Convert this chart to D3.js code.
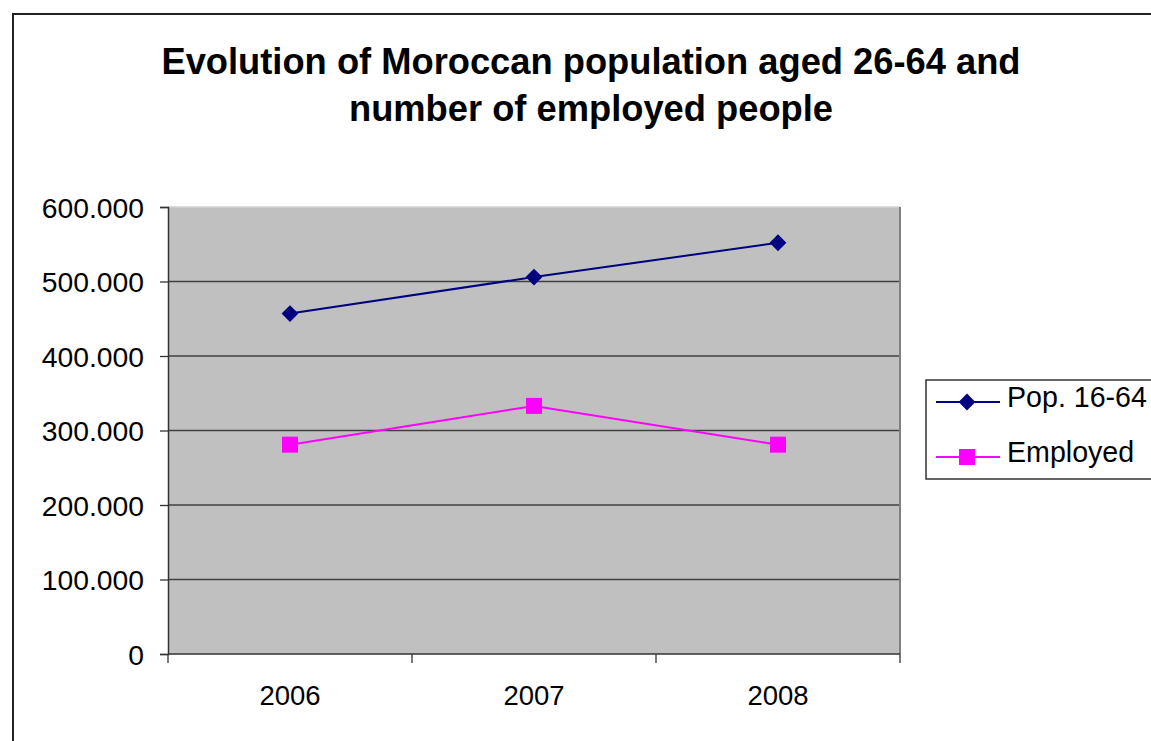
<!DOCTYPE html>
<html>
<head>
<meta charset="utf-8">
<script src="https://cdn.jsdelivr.net/npm/d3@7"></script>
<style>
  body { margin: 0; background: #fff; }
  svg { display: block; font-family: "Liberation Sans", Arial, sans-serif; }
</style>
</head>
<body>
<svg id="chart" width="1151" height="741"></svg>
<script>
// chart data
const years = ['2006', '2007', '2008'];
const popValues = [457000, 506000, 552000];
const employedValues = [281000, 333000, 281000];
const yTicks = [0, 100000, 200000, 300000, 400000, 500000, 600000];
const seriesNames = ['Pop. 16-64', 'Employed'];

const svg = d3.select('#chart');

// outer chart border (runs off the right edge)
svg.append('rect')
    .attr('x', 13).attr('y', 14)
    .attr('width', 1200).attr('height', 760)
    .attr('fill', 'none')
    .attr('stroke', '#222')
    .attr('stroke-width', 2);

// title
const title = svg.append('text')
    .attr('text-anchor', 'middle')
    .attr('font-weight', 'bold')
    .attr('font-size', 36.3)
    .attr('fill', '#000');
title.append('tspan').attr('x', 591).attr('y', 74)
    .text('Evolution of Moroccan population aged 26-64 and');
title.append('tspan').attr('x', 591).attr('y', 121)
    .text('number of employed people');

const plot = { left: 168, top: 207, right: 900, bottom: 654 };

const x = d3.scaleBand()
    .domain(years)
    .range([plot.left, plot.right]);

const y = d3.scaleLinear()
    .domain([0, 600000])
    .range([plot.bottom, plot.top]);

// plot background
svg.append('rect')
    .attr('x', plot.left).attr('y', plot.top)
    .attr('width', plot.right - plot.left)
    .attr('height', plot.bottom - plot.top)
    .attr('fill', '#c0c0c0');

// gridlines
svg.append('g')
    .selectAll('line')
    .data(yTicks.filter(d => d > 0 && d < 600000))
    .join('line')
    .attr('x1', plot.left).attr('x2', plot.right)
    .attr('y1', d => y(d)).attr('y2', d => y(d))
    .attr('stroke', '#404040')
    .attr('stroke-width', 1.3);

// plot frame: light top, gray right
svg.append('line')
    .attr('x1', plot.left).attr('x2', plot.right)
    .attr('y1', plot.top).attr('y2', plot.top)
    .attr('stroke', '#d0d0d0').attr('stroke-width', 1.5);
svg.append('line')
    .attr('x1', plot.right).attr('x2', plot.right)
    .attr('y1', plot.top).attr('y2', plot.bottom)
    .attr('stroke', '#808080').attr('stroke-width', 2);

// y axis
const yAxis = svg.append('g')
    .attr('transform', `translate(${plot.left},0)`)
    .call(d3.axisLeft(y)
        .tickValues(yTicks)
        .tickSize(8)
        .tickPadding(16)
        .tickFormat(d => d === 0 ? '0' : d3.format(',')(d).replace(/,/g, '.')));
yAxis.select('.domain').attr('stroke', '#333').attr('stroke-width', 1.5);
yAxis.selectAll('.tick line').attr('stroke', '#333').attr('stroke-width', 1.3);
yAxis.selectAll('.tick text')
    .attr('font-size', 28.3)
    .attr('font-family', '"Liberation Sans", Arial, sans-serif')
    .attr('fill', '#000')
    .attr('dy', '0.36em');

// x axis with ticks at category boundaries
const xAxis = svg.append('g')
    .attr('transform', `translate(0,${plot.bottom})`);
xAxis.append('line')
    .attr('x1', plot.left).attr('x2', plot.right)
    .attr('y1', 0).attr('y2', 0)
    .attr('stroke', '#333').attr('stroke-width', 1.5);
const bounds = years.map(d => x(d)).concat([x(years[years.length - 1]) + x.bandwidth()]);
xAxis.selectAll('.xtick')
    .data(bounds)
    .join('line')
    .attr('class', 'xtick')
    .attr('x1', d => d).attr('x2', d => d)
    .attr('y1', 0).attr('y2', 9)
    .attr('stroke', '#333').attr('stroke-width', 1.3);
xAxis.selectAll('.xlabel')
    .data(years)
    .join('text')
    .attr('class', 'xlabel')
    .attr('x', d => x(d) + x.bandwidth() / 2)
    .attr('y', 51)
    .attr('text-anchor', 'middle')
    .attr('font-size', 27.5)
    .text(d => d);

const cx = d => x(d) + x.bandwidth() / 2;
const line = d3.line().x(d => cx(d.year)).y(d => y(d.value));

const popData = years.map((yr, i) => ({ year: yr, value: popValues[i] }));
const empData = years.map((yr, i) => ({ year: yr, value: employedValues[i] }));

const navy = '#000080', magenta = '#ff00ff';

svg.append('path').datum(popData)
    .attr('d', line).attr('fill', 'none')
    .attr('stroke', navy).attr('stroke-width', 2);
svg.append('path').datum(empData)
    .attr('d', line).attr('fill', 'none')
    .attr('stroke', magenta).attr('stroke-width', 2);

const diamond = d3.symbol().type(d3.symbolDiamond2).size(180);
svg.selectAll('.pop-mark')
    .data(popData)
    .join('path')
    .attr('class', 'pop-mark')
    .attr('transform', d => `translate(${cx(d.year)},${y(d.value)})`)
    .attr('d', diamond)
    .attr('fill', navy);

svg.selectAll('.emp-mark')
    .data(empData)
    .join('rect')
    .attr('class', 'emp-mark')
    .attr('x', d => cx(d.year) - 8)
    .attr('y', d => y(d.value) - 8)
    .attr('width', 16).attr('height', 16)
    .attr('fill', magenta);

// legend
const legend = svg.append('g');
legend.append('rect')
    .attr('x', 926).attr('y', 380)
    .attr('width', 260).attr('height', 99)
    .attr('fill', '#fff')
    .attr('stroke', '#333').attr('stroke-width', 1.5);

const legendRows = [
    { name: seriesNames[0], color: navy, y: 402, shape: 'diamond' },
    { name: seriesNames[1], color: magenta, y: 457, shape: 'square' }
];
legendRows.forEach(r => {
    legend.append('line')
        .attr('x1', 936).attr('x2', 1000)
        .attr('y1', r.y).attr('y2', r.y)
        .attr('stroke', r.color).attr('stroke-width', 2);
    if (r.shape === 'diamond') {
        legend.append('path')
            .attr('transform', `translate(967,${r.y})`)
            .attr('d', diamond)
            .attr('fill', r.color);
    } else {
        legend.append('rect')
            .attr('x', 959).attr('y', r.y - 8)
            .attr('width', 16).attr('height', 16)
            .attr('fill', r.color);
    }
    legend.append('text')
        .attr('x', 1007).attr('y', r.y - 5)
        .attr('dy', '0.36em')
        .attr('font-size', 28.6)
        .text(r.name);
});
</script>
</body>
</html>
